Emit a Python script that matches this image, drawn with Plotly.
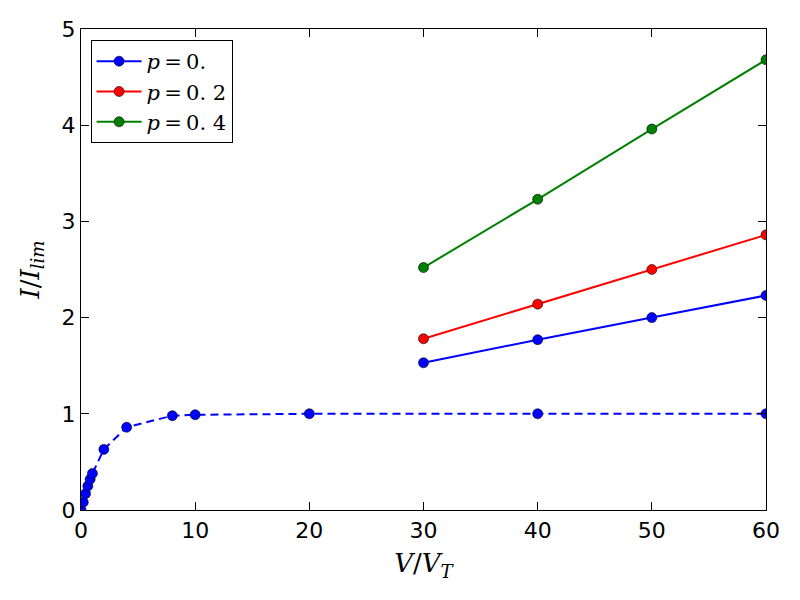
import plotly.graph_objects as go

# dashed p=0 curve (full range)
x_dash = [0, 0.2, 0.4, 0.6, 0.8, 1.0, 2, 4, 8, 10, 20, 40, 60]
y_dash = [0, 0.08, 0.17, 0.25, 0.32, 0.38, 0.63, 0.86, 0.98, 0.99, 1.0, 1.0, 1.0]

# solid curves
x_solid = [30, 40, 50, 60]
y_p00 = [1.53, 1.77, 2.00, 2.23]
y_p02 = [1.78, 2.14, 2.50, 2.86]
y_p04 = [2.52, 3.23, 3.96, 4.68]

labels = ["<i>p</i>\u2009=\u20090.", "<i>p</i>\u2009=\u20090. 2", "<i>p</i>\u2009=\u20090. 4"]
colors = ["blue", "red", "green"]

fig = go.Figure()
for ys, lab, c in zip([y_p00, y_p02, y_p04], labels, colors):
    fig.add_trace(go.Scatter(
        x=x_solid, y=ys, mode="lines+markers", name=lab,
        line=dict(color=c, width=2),
        marker=dict(color=c, size=10, line=dict(color="black", width=0.6)),
    ))
fig.add_trace(go.Scatter(
    x=x_dash, y=y_dash, mode="lines+markers", showlegend=False,
    line=dict(color="blue", width=2, dash="8px,5px"),
    marker=dict(color="blue", size=10, line=dict(color="black", width=0.6)),
))

axis_common = dict(
    showgrid=False, zeroline=False, showline=True, linecolor="black",
    linewidth=1.2, mirror="ticks", ticks="inside", ticklen=8, tickwidth=1,
    tickcolor="black", tickfont=dict(family="DejaVu Sans", size=22, color="black"),
)

fig.update_layout(
    width=800, height=600,
    margin=dict(l=81, r=34, t=29, b=90),
    plot_bgcolor="white", paper_bgcolor="white",
    xaxis=dict(range=[0, 60], tickvals=[0, 10, 20, 30, 40, 50, 60],
               title=dict(text="<i>V</i>/<i>V</i><sub><i>T</i></sub>",
                          font=dict(family="DejaVu Serif", size=26, color="black"),
                          standoff=12),
               **axis_common),
    yaxis=dict(range=[0, 5], tickvals=[0, 1, 2, 3, 4, 5],
               title=dict(text="<i>I</i>/<i>I</i><sub><i>lim</i></sub>",
                          font=dict(family="DejaVu Serif", size=26, color="black"),
                          standoff=14),
               **axis_common),
    legend=dict(x=0.014, y=0.977, xanchor="left", yanchor="top",
                bordercolor="black", borderwidth=1, bgcolor="white",
                font=dict(family="DejaVu Serif", size=21, color="black"),
                itemwidth=45),
    showlegend=True,
)

fig.write_html("out.html")
